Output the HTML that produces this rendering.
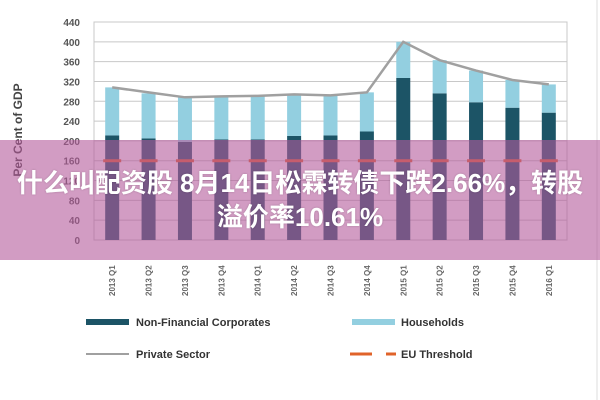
<!DOCTYPE html>
<html><head><meta charset="utf-8"><style>
body{margin:0;width:600px;height:400px;background:#fff;overflow:hidden;font-family:"Liberation Sans","Noto Sans CJK SC",sans-serif}
#overlay{position:absolute;left:0;top:140px;width:600px;height:120px;background:rgba(180,90,155,0.6);color:#fff;font-weight:bold;font-size:26px;text-align:center;line-height:34px;padding-top:26px;box-sizing:border-box;white-space:nowrap;text-shadow:0 0 2px rgba(0,0,0,0.2)}
</style></head><body>
<svg id="chart" width="600" height="400" style="position:absolute;left:0;top:0"></svg>
<div id="overlay">什么叫配资股 8月14日松霖转债下跌2.66%，转股<br>溢价率10.61%</div>
<script>
const categories=["2013 Q1","2013 Q2","2013 Q3","2013 Q4","2014 Q1","2014 Q2","2014 Q3","2014 Q4","2015 Q1","2015 Q2","2015 Q3","2015 Q4","2016 Q1"];
const nfc=[211,205,198,203,203,210,211,219,327,296,278,267,257];
const households=[97,91,90,88,88,83,80,79,73,67,64,56,57];
const privateSector=[308,298,288,290,291,294,292,298,400,363,342,323,314];
const threshold=[160,160,160,160,160,160,160,160,160,160,160,160,160];
const yTicks=[0,40,80,120,160,200,240,280,320,360,400,440];
const svg=document.getElementById('chart');const NS='http://www.w3.org/2000/svg';
function mk(t,a,p){const e=document.createElementNS(NS,t);for(const k in a)e.setAttribute(k,a[k]);(p||svg).appendChild(e);return e;}
const L=94,R=567,Y0=240,Ymax=22;
const y=v=>Y0-(Y0-Ymax)*v/440;
const step=(R-L)/categories.length;
const x=i=>L+step*(i+0.5);
yTicks.forEach(t=>{
 const g=mk('line',{x1:L,x2:R,y1:y(t),y2:y(t),stroke:'#c8c8c8','stroke-width':1});
 
 
 const tx=mk('text',{x:80,y:y(t)+4,'text-anchor':'end','font-size':10,'font-weight':'bold',fill:'#555'});tx.textContent=t;
 
 
});
const fr=mk('rect',{x:L,y:Ymax,width:R-L,height:Y0-Ymax,fill:'none',stroke:'#c8c8c8'});


const yt=mk('text',{x:0,y:0,transform:'translate(22,130) rotate(-90)','text-anchor':'middle','font-size':12,'font-weight':'bold',fill:'#444'});yt.textContent='Per Cent of GDP';


categories.forEach((c,i)=>{
 const bw=14;
 const b1=mk('rect',{x:x(i)-bw/2,y:y(nfc[i]),width:bw,height:Y0-y(nfc[i]),fill:'#1c5466'});
 
 
 const top=nfc[i]+households[i];
 const b2=mk('rect',{x:x(i)-bw/2,y:y(top),width:bw,height:y(nfc[i])-y(top),fill:'#93cfe0'});
 
 
 const d=mk('line',{x1:x(i)-9,x2:x(i)+9,y1:y(threshold[i]),y2:y(threshold[i]),stroke:'#e0632a','stroke-width':3});
 
 
 const lb=mk('text',{x:0,y:0,transform:`translate(${x(i)+3},296) rotate(-90)`,'font-size':8,'font-weight':'bold',fill:'#666'});lb.textContent=c;
 
 
});
const pl=mk('polyline',{points:privateSector.map((v,i)=>x(i)+','+y(v)).join(' '),fill:'none',stroke:'#a0a0a0','stroke-width':2.5});


mk('line',{x1:597,x2:597,y1:0,y2:400,stroke:'#ddd'});
function leg(name,x0,yy,label,draw){const g=mk('g',{});
 
 
 draw(g);
 const t=mk('text',{x:x0,y:yy+4,'font-size':11,'font-weight':'bold',fill:'#333'},g);t.textContent=label;}
leg('legend-nfc',136,322,'Non-Financial Corporates',g=>mk('rect',{x:86,y:319,width:43,height:6,fill:'#1c5466'},g));
leg('legend-households',401,322,'Households',g=>mk('rect',{x:352,y:319,width:43,height:6,fill:'#93cfe0'},g));
leg('legend-private-sector',136,354,'Private Sector',g=>mk('line',{x1:86,x2:129,y1:354,y2:354,stroke:'#a0a0a0','stroke-width':2},g));
leg('legend-eu-threshold',401,354,'EU Threshold',g=>{mk('line',{x1:350,x2:372,y1:354,y2:354,stroke:'#e0632a','stroke-width':3},g);mk('line',{x1:386,x2:396,y1:354,y2:354,stroke:'#e0632a','stroke-width':3},g);});
</script>
</body></html>
